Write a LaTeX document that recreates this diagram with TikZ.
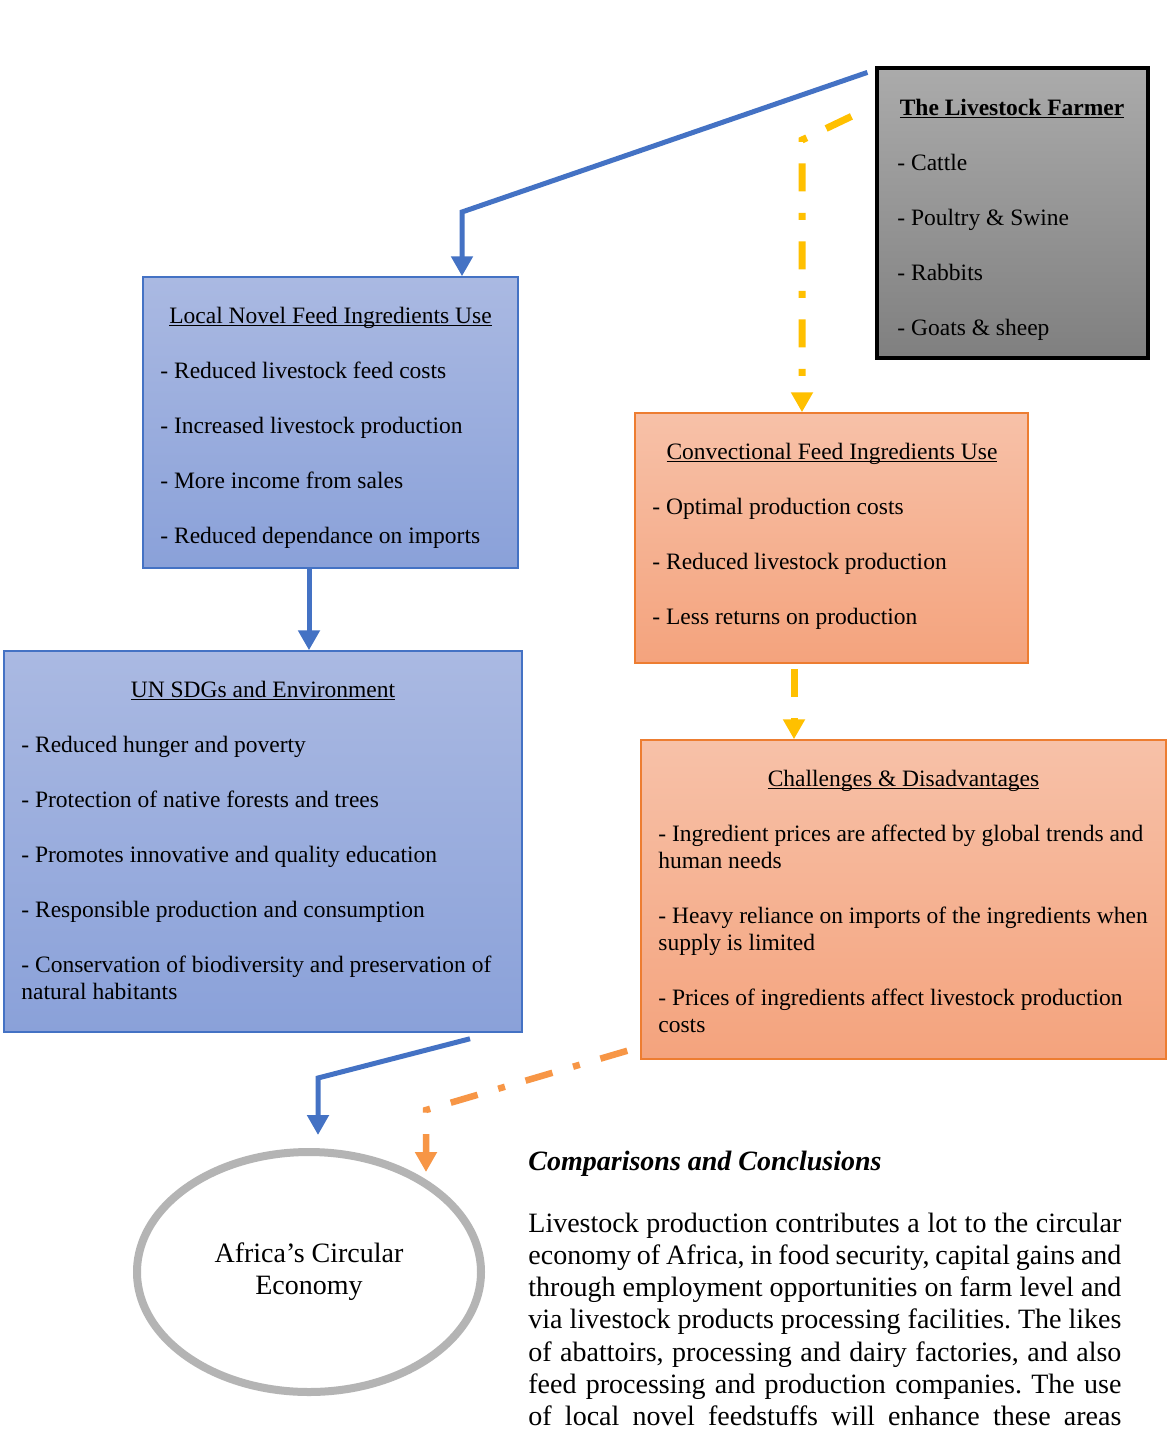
\documentclass[tikz,border=0pt]{standalone}
\usepackage{fontspec}
\setmainfont{Liberation Serif}
\usetikzlibrary{arrows.meta,shapes.geometric,fit}
\frenchspacing

\definecolor{linkblue}{HTML}{4472C4}
\definecolor{linkgold}{HTML}{FFC000}
\definecolor{linkorange}{HTML}{F79646}
\definecolor{bluetop}{HTML}{AAB9E2}
\definecolor{bluebot}{HTML}{8AA1D9}
\definecolor{peachtop}{HTML}{F7C1A8}
\definecolor{peachbot}{HTML}{F4A37D}
\definecolor{peachedge}{HTML}{ED7D31}
\definecolor{ringgray}{HTML}{B4B4B4}

\newcommand\boxhead[1]{\underline{\smash{#1}}}

\tikzset{
  panel/.style={inner sep=0pt, line width=0.75pt},
  bluepanel/.style={panel, draw=linkblue, top color=bluetop, bottom color=bluebot},
  peachpanel/.style={panel, draw=peachedge, top color=peachtop, bottom color=peachbot},
  greypanel/.style={inner sep=0pt, draw=black, line width=1.6pt, top color=gray!66, bottom color=gray},
  item/.style={inner sep=0pt, anchor=base west, font=\fontsize{11.75}{13.8}\selectfont},
  head/.style={item, anchor=base},
  link/.style={line width=2.5pt, -{Triangle[width=10.5pt,length=10pt]}},
  dashdot/.style={line width=3.5pt, dash pattern=on 14pt off 10.75pt on 3.5pt off 10.75pt},
}

\begin{document}
\begin{tikzpicture}[x=0.5pt,y=-0.5pt]
  \useasboundingbox (0,0) rectangle (1170,1430);
  \fill[white] (0,0) rectangle (1170,1430);

  % panels
  \node[greypanel, fit={(877,68) (1148,358)}] (farmer) {};
  \node[bluepanel, fit={(143,277) (518,568)}] (local) {};
  \node[bluepanel, fit={(4,651) (522,1032)}] (sdg) {};
  \node[peachpanel, fit={(635,413) (1028,663)}] (conv) {};
  \node[peachpanel, fit={(641,740) (1166,1059)}] (chal) {};
  \node[ellipse, draw=ringgray, line width=4pt, outer sep=0pt, inner sep=0pt,
    minimum width=172pt, minimum height=120pt, align=center,
    font=\fontsize{14}{16}\selectfont] (eco) at (309,1272) {Africa’s Circular\\Economy};

  % the farmer
  \node[head, font=\fontsize{11.75}{13.8}\selectfont\bfseries] (farmer-title) at (1012,115)
    {\boxhead{The Livestock Farmer}};
  \foreach \txt [count=\i] in {Cattle, Poultry \& Swine, Rabbits, Goats \& sheep}
    \node[item] (farmer-\i) at (897,115+55*\i) {- \txt};

  % local feed
  \node[head] (local-title) at (330.5,323) {\boxhead{Local Novel Feed Ingredients Use}};
  \foreach \txt [count=\i] in {Reduced livestock feed costs, Increased livestock production,
      More income from sales, Reduced dependance on imports}
    \node[item] (local-\i) at (160,323+55*\i) {- \txt};

  % SDGs
  \node[head] (sdg-title) at (263,697) {\boxhead{UN SDGs and Environment}};
  \foreach \yy/\txt [count=\i] in {752/- Reduced hunger and poverty,
      807/- Protection of native forests and trees,
      862/- Promotes innovative and quality education,
      917/- Responsible production and consumption,
      972/- Conservation of biodiversity and preservation of,
      999/natural habitants}
    \node[item] (sdg-\i) at (21,\yy) {\txt};

  % conventional feed
  \node[head] (conv-title) at (832,459) {\boxhead{Convectional Feed Ingredients Use}};
  \foreach \txt [count=\i] in {Optimal production costs, Reduced livestock production,
      Less returns on production}
    \node[item] (conv-\i) at (652,459+55*\i) {- \txt};

  % challenges
  \node[head] (chal-title) at (903.5,786) {\boxhead{Challenges \& Disadvantages}};
  \foreach \yy/\txt [count=\i] in {841/- Ingredient prices are affected by global trends and,
      868/human needs,
      923/- Heavy reliance on imports of the ingredients when,
      950/supply is limited,
      1005/- Prices of ingredients affect livestock production,
      1032/costs}
    \node[item] (chal-\i) at (658,\yy) {\txt};

  % conclusions
  \node[inner sep=0pt, anchor=base west, font=\fontsize{14}{16}\selectfont\bfseries\itshape]
    (summary-title) at (528,1170) {Comparisons and Conclusions};
  \node[inner sep=0pt, anchor=base west] (summary) at (528,1232) {\vtop{\hsize=296.5pt
    \fontsize{14}{16.15}\selectfont\parindent=0pt\parfillskip=0pt
    Livestock production contributes a lot to the circular\linebreak
    economy of Africa, in food security, capital gains and\linebreak
    through employment opportunities on farm level and\linebreak
    via livestock products processing facilities. The likes\linebreak
    of abattoirs, processing and dairy factories, and also\linebreak
    feed processing and production companies. The use\linebreak
    of local novel feedstuffs will enhance these areas\par}};

  % connectors
  \coordinate (bend-a) at (462,212);
  \coordinate (drop-a) at ([shift={(-21.5,0)}]local.south);
  \coordinate (gold-start) at ([shift={(-24,50)}]farmer.north west);
  \coordinate (bend-b) at (802,140);
  \coordinate (drop-b) at ([shift={(-37.5,5)}]conv.south);
  \coordinate (sdg-out) at ([shift={(207,6)}]sdg.south);
  \coordinate (bend-c) at (318,1078);
  \coordinate (eco-in) at ([shift={(9,-17)}]eco.north);
  \coordinate (chal-out) at ([shift={(-13,-9)}]chal.south west);
  \coordinate (bend-d) at (426,1110);
  \coordinate (eco-in2) at ([shift={(117,-100)}]eco.center);

  \draw[link, linkblue] ([shift={(-8,6)}]farmer.north west) -- (bend-a) -- (bend-a |- local.north);
  \draw[link, linkblue] (drop-a) -- (drop-a |- sdg.north);
  \draw[link, linkblue] (sdg-out) -- (bend-c) -- (eco-in);

  \draw[link, dashdot, linkgold] (gold-start) -- (bend-b) -- (bend-b |- conv.north);
  \draw[link, dashdot, linkgold] (drop-b) -- (drop-b |- chal.north);
  \draw[link, dashdot, line width=3.25pt, linkorange] (chal-out) -- (bend-d) -- (eco-in2);
\end{tikzpicture}
\end{document}
